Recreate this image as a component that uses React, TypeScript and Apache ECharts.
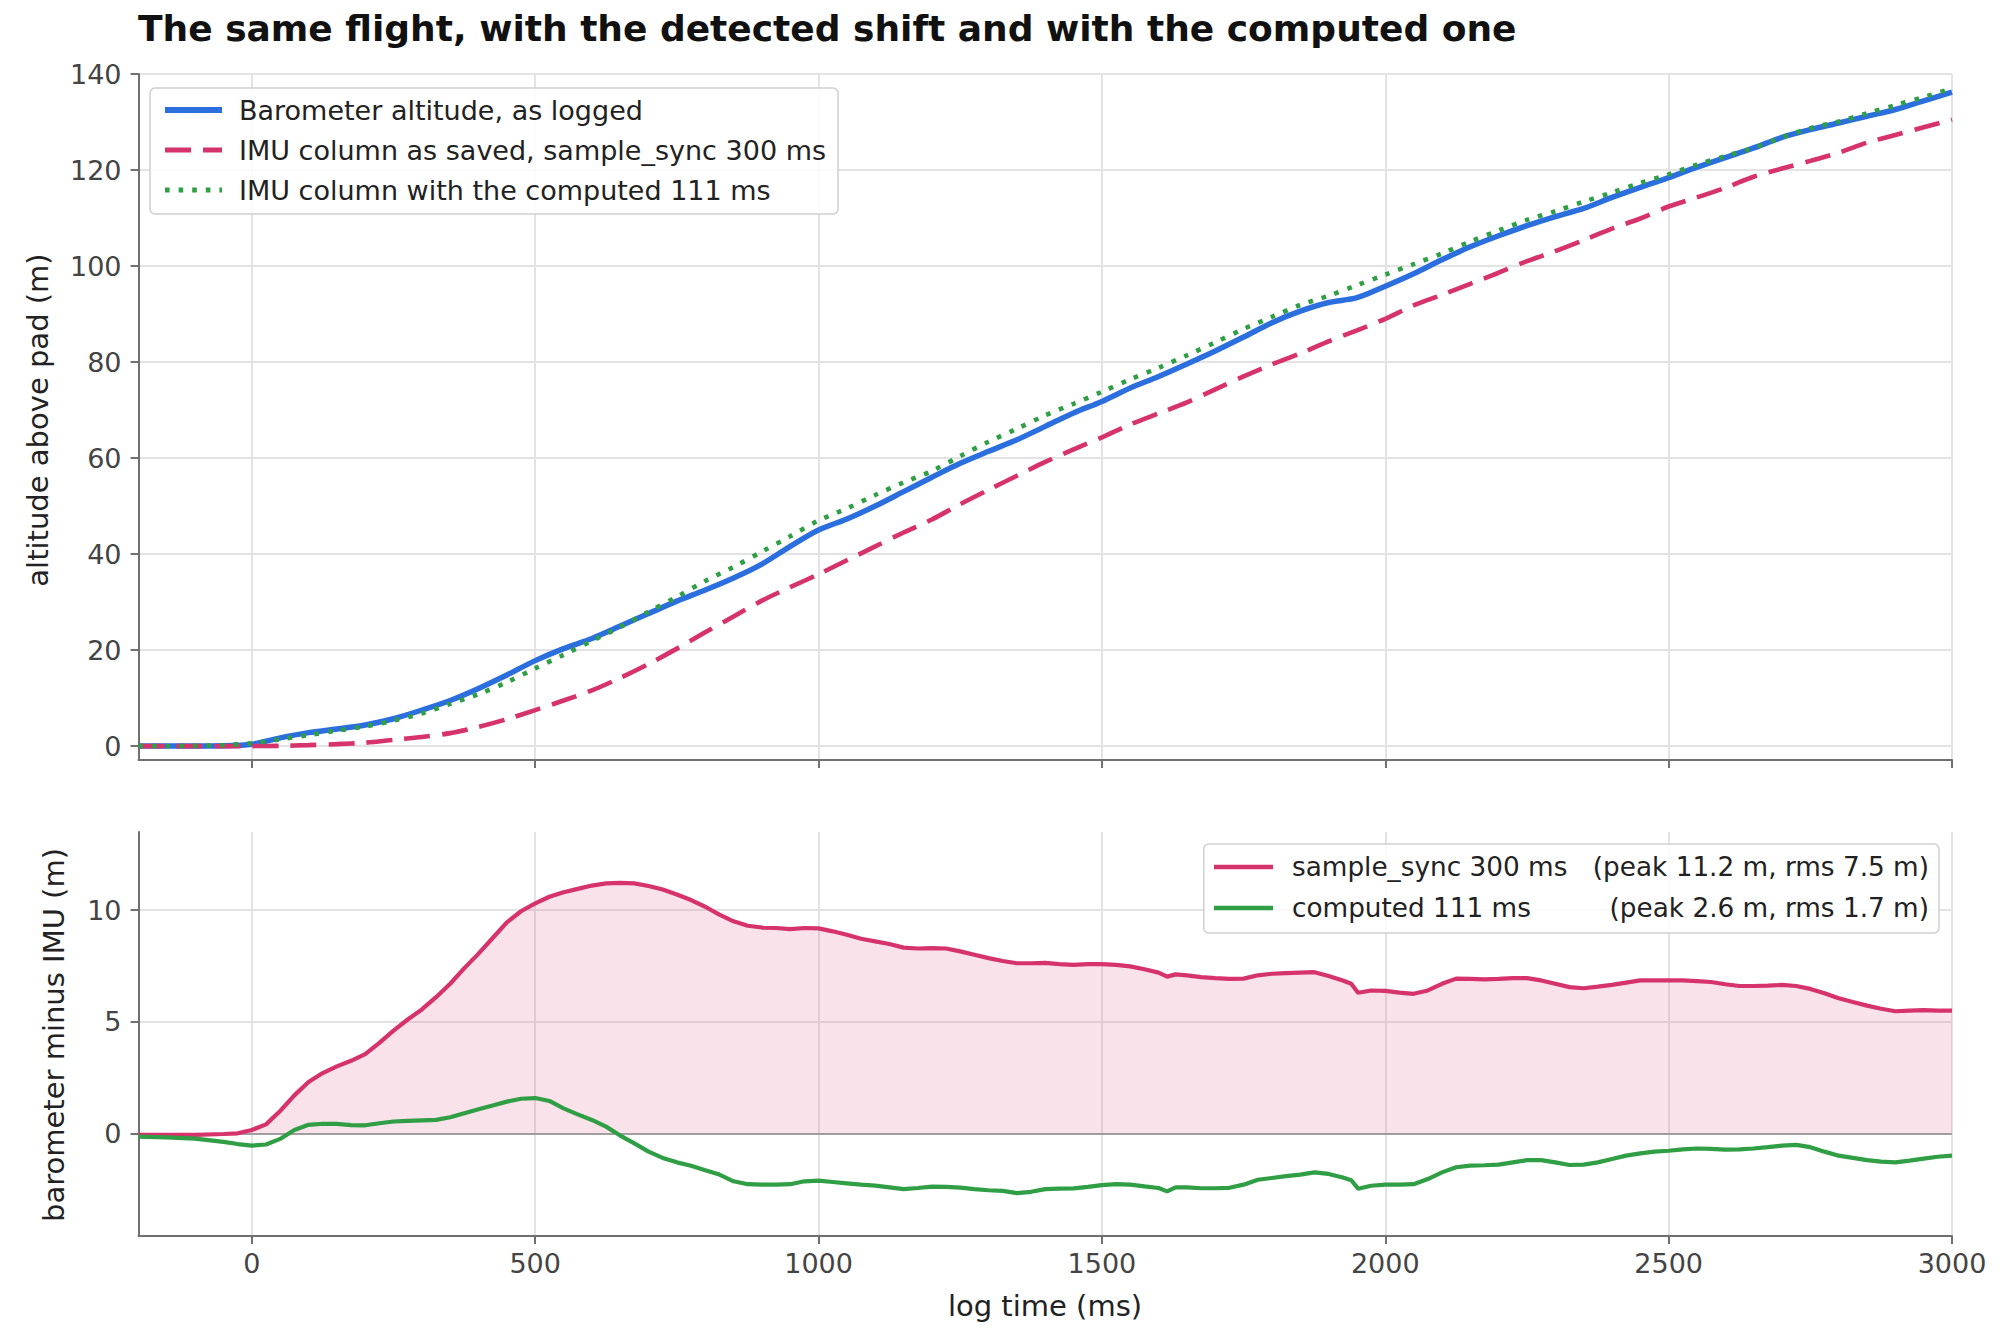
import React, { useEffect, useRef } from 'react';
import * as echarts from 'echarts';

const TITLE = 'The same flight, with the detected shift and with the computed one';
const Y_TOP_LABEL = 'altitude above pad (m)';
const Y_BOTTOM_LABEL = 'barometer minus IMU (m)';
const X_LABEL = 'log time (ms)';

const TOP_NAMES = [
  'Barometer altitude, as logged',
  'IMU column as saved, sample_sync 300 ms',
  'IMU column with the computed 111 ms',
];
const BOTTOM_NAMES = ['sample_sync 300 ms', 'computed 111 ms'];
const BOTTOM_STATS = ['(peak 11.2 m, rms 7.5 m)', '(peak 2.6 m, rms 1.7 m)'];

const X_TICKS = [0, 500, 1000, 1500, 2000, 2500, 3000];
const Y_TOP_TICKS = [0, 20, 40, 60, 80, 100, 120, 140];
const Y_BOTTOM_TICKS = [0, 5, 10];

// top panel, log time (ms)
const T_TOP = [
  -200, -150, -100, -50, 0, 50, 100, 150, 200, 250, 300, 350, 400, 450, 500, 550, 600, 650, 700, 750,
  800, 850, 900, 950, 1000, 1050, 1100, 1150, 1200, 1250, 1300, 1350, 1400, 1450, 1500, 1550, 1600,
  1650, 1700, 1750, 1800, 1850, 1900, 1950, 2000, 2050, 2100, 2150, 2200, 2250, 2300, 2350, 2400,
  2450, 2500, 2550, 2600, 2650, 2700, 2750, 2800, 2850, 2900, 2950, 3000,
];
const BARO = [
  0, 0, 0, 0.05, 0.4, 1.7, 2.8, 3.55, 4.4, 5.7, 7.5, 9.5, 12.0, 14.8, 17.8, 20.3, 22.4, 25.0, 27.6, 30.2,
  32.5, 35.0, 37.9, 41.6, 45.0, 47.3, 50.0, 53.0, 56.0, 58.9, 61.4, 63.8, 66.6, 69.4, 71.8, 74.6, 77.0,
  79.6, 82.3, 85.2, 88.2, 90.6, 92.4, 93.4, 95.8, 98.4, 101.3, 104.0, 106.3, 108.4, 110.3, 112.0, 114.3,
  116.4, 118.4, 120.6, 122.6, 124.6, 126.8, 128.4, 129.8, 131.2, 132.6, 134.4, 136.2,
];
const IMU_SAVED = [
  0, 0, 0, 0, 0, 0.05, 0.2, 0.4, 0.7, 1.3, 1.9, 2.7, 4.0, 5.6, 7.5, 9.5, 11.6, 14.2, 17.1, 20.3,
  23.7, 27.0, 30.3, 33.1, 35.8, 38.7, 41.6, 44.5, 47.2, 50.4, 53.4, 56.3, 59.2, 61.8, 64.3, 67.0, 69.3,
  71.6, 74.3, 77.0, 79.5, 81.8, 84.3, 86.6, 89.0, 91.8, 94.0, 96.3, 98.6, 101.0, 103.1, 105.4, 107.8,
  109.9, 112.4, 114.3, 116.3, 118.6, 120.3, 121.9, 123.6, 125.7, 127.3, 128.9, 130.5,
];
const IMU_COMPUTED = [
  0, 0, 0.05, 0.2, 0.6, 1.4, 2.3, 3.2, 4.1, 5.3, 6.8, 8.8, 10.8, 13.3, 16.2, 19.0, 21.9, 24.8, 28.0, 31.1,
  34.4, 37.3, 40.5, 43.7, 47.0, 49.5, 52.3, 54.9, 57.3, 60.4, 63.4, 66.1, 68.9, 71.3, 73.8, 76.4, 78.8,
  81.4, 84.1, 86.9, 89.4, 91.9, 93.8, 96.0, 98.2, 100.4, 102.6, 105.1, 107.4, 109.6, 111.4, 113.4, 115.3,
  117.3, 119.1, 121.1, 122.9, 124.6, 126.8, 128.7, 130.1, 131.8, 133.5, 135.2, 137.0,
];

// bottom panel, log time (ms)
const T_DIFF = [
  -200, -150, -100, -50, -25,
  0, 25, 50, 75, 100, 125, 150, 175, 200, 225, 250, 275, 300, 325, 350, 375, 400, 425, 450, 475,
  500, 525, 550, 575, 600, 625, 650, 675, 700, 725, 750, 775, 800, 825, 850, 875, 900, 925, 950, 975,
  1000, 1025, 1050, 1075, 1100, 1125, 1150, 1175, 1200, 1225, 1250, 1275, 1300, 1325, 1350, 1375,
  1400, 1425, 1450, 1475, 1500, 1525, 1550, 1575, 1600,
  1615, 1630,
  1650, 1675, 1700, 1725, 1750, 1775, 1800, 1825, 1850, 1875, 1900, 1925,
  1940, 1952,
  1975, 2000, 2025, 2050, 2075, 2100, 2125, 2150, 2175, 2200, 2225, 2250, 2275, 2300, 2325, 2350,
  2375, 2400, 2425, 2450, 2475, 2500, 2525, 2550, 2575, 2600, 2625, 2650, 2675, 2700, 2725, 2750,
  2775, 2800, 2825, 2850, 2875, 2900, 2925, 2950, 2975, 3000,
];
const DIFF_SAVED = [
  -0.07, -0.07, -0.07, -0.03, 0.0,
  0.15, 0.4, 1.0, 1.7, 2.3, 2.7, 3.0, 3.25, 3.55, 4.05, 4.6, 5.1, 5.55, 6.1, 6.7, 7.4, 8.05, 8.75, 9.45, 9.95,
  10.3, 10.6, 10.8, 10.95, 11.1, 11.2, 11.22, 11.2, 11.08, 10.92, 10.7, 10.45, 10.15, 9.8, 9.5, 9.3, 9.22, 9.2, 9.15, 9.2,
  9.18, 9.05, 8.9, 8.72, 8.6, 8.48, 8.32, 8.28, 8.3, 8.28, 8.15, 8.0, 7.85, 7.72, 7.62, 7.62,
  7.64, 7.58, 7.55, 7.58, 7.58, 7.55, 7.48, 7.35, 7.2,
  7.02, 7.12,
  7.08, 7.0, 6.95, 6.92, 6.93, 7.08, 7.15, 7.18, 7.2, 7.22, 7.05, 6.85,
  6.7, 6.3,
  6.4, 6.38, 6.3, 6.25, 6.4, 6.7, 6.93, 6.92, 6.9, 6.92, 6.95, 6.95, 6.85, 6.7, 6.55, 6.5,
  6.57, 6.65, 6.75, 6.85, 6.85, 6.85, 6.85, 6.82, 6.78, 6.68, 6.6, 6.6, 6.62, 6.65, 6.6, 6.47,
  6.28, 6.05, 5.88, 5.72, 5.58, 5.47, 5.5, 5.52, 5.5, 5.5,
];
const DIFF_COMPUTED = [
  -0.15, -0.18, -0.24, -0.38, -0.48,
  -0.55, -0.5, -0.25, 0.15, 0.38, 0.43, 0.42, 0.37, 0.36, 0.45, 0.53, 0.56, 0.58, 0.6, 0.72, 0.9, 1.08, 1.25, 1.42, 1.55,
  1.58, 1.45, 1.12, 0.85, 0.6, 0.3, -0.1, -0.45, -0.82, -1.1, -1.3, -1.45, -1.65, -1.85, -2.15, -2.28, -2.3, -2.3, -2.28, -2.15,
  -2.12, -2.18, -2.24, -2.3, -2.34, -2.42, -2.5, -2.45, -2.39, -2.4, -2.43, -2.5, -2.55, -2.58, -2.68, -2.62,
  -2.5, -2.48, -2.47, -2.4, -2.32, -2.28, -2.3, -2.38, -2.45,
  -2.6, -2.42,
  -2.42, -2.46, -2.46, -2.44, -2.3, -2.08, -2.0, -1.92, -1.85, -1.75, -1.82, -1.98,
  -2.1, -2.48,
  -2.35, -2.3, -2.3, -2.28, -2.05, -1.75, -1.52, -1.45, -1.43, -1.4, -1.3, -1.2, -1.2, -1.3, -1.42, -1.4,
  -1.3, -1.15, -1.0, -0.9, -0.82, -0.78, -0.72, -0.68, -0.7, -0.73, -0.72, -0.68, -0.62, -0.55, -0.52, -0.62,
  -0.82, -1.0, -1.1, -1.2, -1.27, -1.3, -1.22, -1.13, -1.05, -1.0,
];

const FONT = '"DejaVu Sans", "Liberation Sans", sans-serif';
const BLUE = '#2b6fdf';
const PINK = '#d6336c';
const GREEN = '#2f9e44';
const AXIS_COLOR = '#707070';
const GRID_COLOR = '#e3e3e3';
const LABEL_COLOR = '#444444';
const TEXT_COLOR = '#222222';

const zip = (xs: number[], ys: number[]) => xs.map((x, i) => [x, ys[i]]);

function xAxis(gridIndex: number, showLabels: boolean) {
  return {
    type: 'value',
    gridIndex,
    min: -200,
    max: 3000,
    axisLine: { show: true, onZero: false, lineStyle: { color: AXIS_COLOR, width: 2 } },
    axisTick: { show: true, length: 8, customValues: X_TICKS, lineStyle: { color: AXIS_COLOR, width: 2 } },
    axisLabel: {
      show: showLabels,
      customValues: X_TICKS,
      formatter: (v: number) => String(v),
      fontSize: 27,
      fontFamily: FONT,
      color: LABEL_COLOR,
      margin: 14,
    },
    splitLine: { show: true, lineStyle: { color: GRID_COLOR, width: 2 } },
  };
}

function yAxis(gridIndex: number, min: number, max: number, ticks: number[]) {
  return {
    type: 'value',
    gridIndex,
    min,
    max,
    axisLine: { show: true, onZero: false, lineStyle: { color: AXIS_COLOR, width: 2 } },
    axisTick: { show: true, length: 8, customValues: ticks, lineStyle: { color: AXIS_COLOR, width: 2 } },
    axisLabel: {
      show: true,
      customValues: ticks,
      formatter: (v: number) => String(v),
      fontSize: 27,
      fontFamily: FONT,
      color: LABEL_COLOR,
      margin: 17,
    },
    splitLine: { show: true, lineStyle: { color: GRID_COLOR, width: 2 } },
  };
}

const HIDE_SYMBOL = { opacity: 0, borderWidth: 0 };

export default function App() {
  const ref = useRef<HTMLDivElement>(null);

  useEffect(() => {
    if (!ref.current) return;
    const chart = echarts.init(ref.current, null, { renderer: 'svg' });

    const option: any = {
      animation: false,
      backgroundColor: '#ffffff',
      grid: [
        { left: 138.5, right: 48, top: 74, height: 686 },
        { left: 138.5, right: 48, top: 832, height: 404 },
      ],
      xAxis: [xAxis(0, false), xAxis(1, true)],
      yAxis: [yAxis(0, -2.9, 140, Y_TOP_TICKS), yAxis(1, -4.6, 13.5, Y_BOTTOM_TICKS)],
      legend: [
        {
          orient: 'vertical',
          left: 150,
          top: 88,
          selectedMode: false,
          data: [
            { name: TOP_NAMES[0], lineStyle: { width: 6 }, itemStyle: HIDE_SYMBOL },
            { name: TOP_NAMES[1], lineStyle: { width: 4.8 }, itemStyle: HIDE_SYMBOL },
            { name: TOP_NAMES[2], lineStyle: { width: 4.8 }, itemStyle: HIDE_SYMBOL },
          ],
          itemWidth: 57,
          itemHeight: 14,
          itemGap: 10,
          textStyle: {
            fontSize: 27,
            fontFamily: FONT,
            color: TEXT_COLOR,
            lineHeight: 30,
            padding: [0, 0, 0, 12],
          },
          backgroundColor: 'rgba(255,255,255,0.85)',
          borderColor: '#cfcfcf',
          borderWidth: 1.5,
          borderRadius: 5,
          padding: [7, 12, 9, 12],
        },
        {
          orient: 'vertical',
          right: 61,
          top: 844,
          selectedMode: false,
          data: [
            { name: BOTTOM_NAMES[0], lineStyle: { width: 4.5 }, itemStyle: HIDE_SYMBOL },
            { name: BOTTOM_NAMES[1], lineStyle: { width: 4.5 }, itemStyle: HIDE_SYMBOL },
          ],
          itemWidth: 59,
          itemHeight: 14,
          itemGap: 11,
          formatter: (name: string) => {
            const i = BOTTOM_NAMES.indexOf(name);
            return `{a|${name}}{b|${BOTTOM_STATS[i]}}`;
          },
          textStyle: {
            fontSize: 26.3,
            fontFamily: FONT,
            color: TEXT_COLOR,
            lineHeight: 30,
            padding: [0, 0, 0, 14],
            rich: {
              a: { fontSize: 26.3, fontFamily: FONT, color: TEXT_COLOR, width: 300, lineHeight: 30 },
              b: { fontSize: 26.3, fontFamily: FONT, color: TEXT_COLOR, width: 337, align: 'right', lineHeight: 30 },
            },
          },
          backgroundColor: 'rgba(255,255,255,0.85)',
          borderColor: '#cfcfcf',
          borderWidth: 1.5,
          borderRadius: 5,
          padding: [8, 10, 10, 8],
        },
      ],
      graphic: [
        {
          type: 'text',
          x: 138,
          y: 28,
          style: {
            text: TITLE,
            fontSize: 36,
            fontWeight: 'bold',
            fontFamily: FONT,
            fill: '#111111',
            align: 'left',
            verticalAlign: 'middle',
          },
        },
        {
          type: 'text',
          x: 38,
          y: 420,
          rotation: Math.PI / 2,
          style: {
            text: Y_TOP_LABEL,
            fontSize: 29,
            fontFamily: FONT,
            fill: TEXT_COLOR,
            align: 'center',
            verticalAlign: 'middle',
          },
        },
        {
          type: 'text',
          x: 54,
          y: 1035,
          rotation: Math.PI / 2,
          style: {
            text: Y_BOTTOM_LABEL,
            fontSize: 29,
            fontFamily: FONT,
            fill: TEXT_COLOR,
            align: 'center',
            verticalAlign: 'middle',
          },
        },
        {
          type: 'text',
          x: 1045,
          y: 1306,
          style: {
            text: X_LABEL,
            fontSize: 29,
            fontFamily: FONT,
            fill: TEXT_COLOR,
            align: 'center',
            verticalAlign: 'middle',
          },
        },
      ],
      series: [
        {
          name: TOP_NAMES[0],
          type: 'line',
          xAxisIndex: 0,
          yAxisIndex: 0,
          data: zip(T_TOP, BARO),
          symbol: 'none',
          showSymbol: false,
          smooth: 0.3,
          color: BLUE,
          lineStyle: { color: BLUE, width: 5.5 },
          z: 2,
        },
        {
          name: TOP_NAMES[1],
          type: 'line',
          xAxisIndex: 0,
          yAxisIndex: 0,
          data: zip(T_TOP, IMU_SAVED),
          symbol: 'none',
          showSymbol: false,
          smooth: 0.3,
          color: PINK,
          lineStyle: { color: PINK, width: 4.6, type: [26, 12] },
          z: 3,
        },
        {
          name: TOP_NAMES[2],
          type: 'line',
          xAxisIndex: 0,
          yAxisIndex: 0,
          data: zip(T_TOP, IMU_COMPUTED),
          symbol: 'none',
          showSymbol: false,
          smooth: 0.3,
          color: GREEN,
          lineStyle: { color: GREEN, width: 4.6, type: [4.6, 9] },
          z: 4,
        },
        {
          name: BOTTOM_NAMES[0],
          type: 'line',
          xAxisIndex: 1,
          yAxisIndex: 1,
          data: zip(T_DIFF, DIFF_SAVED),
          symbol: 'none',
          showSymbol: false,
          color: PINK,
          lineStyle: { color: PINK, width: 4.2 },
          areaStyle: { color: 'rgba(214,51,108,0.2)', origin: 0 },
          markLine: {
            silent: true,
            symbol: ['none', 'none'],
            label: { show: false },
            lineStyle: { color: '#a0a0a0', width: 2, type: 'solid' },
            data: [{ yAxis: 0 }],
            z: 1,
          },
          z: 3,
        },
        {
          name: BOTTOM_NAMES[1],
          type: 'line',
          xAxisIndex: 1,
          yAxisIndex: 1,
          data: zip(T_DIFF, DIFF_COMPUTED),
          symbol: 'none',
          showSymbol: false,
          color: GREEN,
          lineStyle: { color: GREEN, width: 4.2 },
          z: 4,
        },
      ],
    };

    chart.setOption(option);
    return () => chart.dispose();
  }, []);

  return (
    <div
      ref={ref}
      style={{ position: 'absolute', left: 0, top: 0, width: 2000, height: 1334, background: '#ffffff' }}
    />
  );
}
